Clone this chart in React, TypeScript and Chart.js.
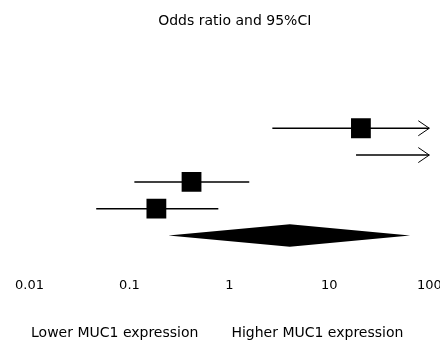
import React, { useEffect, useRef } from "react";
import { Chart, registerables } from "chart.js";

Chart.register(...registerables);

const TITLE = "Odds ratio and 95%CI";
// Study rows (top to bottom)
const ROW_POS = [5, 4, 3, 2];
const OR_EST = [20.7, 150, 0.418, 0.186];
const CI_LOW = [2.69, 18.5, 0.112, 0.0465];
const CI_HIGH = [1000, 1000, 1.58, 0.775];
// Pooled estimate (diamond)
const POOLED_POS = 1;
const POOLED_LOW = 0.245;
const POOLED_EST = 4.02;
const POOLED_HIGH = 64.3;
// Axis
const TICK_VALUES = [0.01, 0.1, 1, 10, 100];
const TICK_LABELS = ["0.01", "0.1", "1", "10", "100"];
const AXIS_MIN = 0.01;
const AXIS_CAP = 100;
const SIDE_LABELS = ["Lower MUC1 expression", "Higher MUC1 expression"];

const FONT = "DejaVu Sans";

const forestPlugin = {
  id: "forest",
  beforeDatasetsDraw(chart: any) {
    const { ctx } = chart;
    const x = chart.scales.x;
    const y = chart.scales.y;
    ctx.save();
    ctx.strokeStyle = "#000";
    ctx.fillStyle = "#000";
    ROW_POS.forEach((r, i) => {
      const py = y.getPixelForValue(r);
      const x0 = x.getPixelForValue(Math.max(CI_LOW[i], AXIS_MIN));
      const capped = CI_HIGH[i] > AXIS_CAP;
      const x1 = x.getPixelForValue(Math.min(CI_HIGH[i], AXIS_CAP));
      ctx.lineWidth = 1.5;
      ctx.beginPath();
      ctx.moveTo(x0, py);
      ctx.lineTo(x1, py);
      ctx.stroke();
      if (capped) {
        ctx.lineWidth = 1;
        ctx.beginPath();
        ctx.moveTo(x1 - 11, py - 7.5);
        ctx.lineTo(x1, py);
        ctx.lineTo(x1 - 11, py + 7.5);
        ctx.stroke();
      }
    });
    const dy = y.getPixelForValue(POOLED_POS);
    const dTop = y.getPixelForValue(POOLED_POS + 0.42);
    const dBot = y.getPixelForValue(POOLED_POS - 0.42);
    ctx.beginPath();
    ctx.moveTo(x.getPixelForValue(POOLED_LOW), dy);
    ctx.lineTo(x.getPixelForValue(POOLED_EST), dTop);
    ctx.lineTo(x.getPixelForValue(POOLED_HIGH), dy);
    ctx.lineTo(x.getPixelForValue(POOLED_EST), dBot);
    ctx.closePath();
    ctx.fill();
    ctx.restore();
  },
  afterDraw(chart: any) {
    const { ctx } = chart;
    const x = chart.scales.x;
    const one = x.getPixelForValue(1);
    ctx.save();
    ctx.fillStyle = "#000";
    ctx.font = `14px "${FONT}"`;
    ctx.textBaseline = "alphabetic";
    const by = chart.height - 3;
    ctx.textAlign = "right";
    ctx.fillText(SIDE_LABELS[0], one - 31, by);
    ctx.textAlign = "left";
    ctx.fillText(SIDE_LABELS[1], one + 2, by);
    ctx.restore();
  },
};

export default function App() {
  const ref = useRef<HTMLCanvasElement | null>(null);
  useEffect(() => {
    if (!ref.current) return;
    const chart = new Chart(ref.current, {
      type: "scatter",
      data: {
        datasets: [
          {
            data: ROW_POS.map((r, i) => ({ x: OR_EST[i], y: r })).filter((p) => p.x <= AXIS_CAP),
            pointStyle: "rect",
            pointRadius: 14,
            pointHoverRadius: 14,
            backgroundColor: "#000",
            borderColor: "#000",
            borderWidth: 0,
          },
        ],
      },
      options: {
        responsive: false,
        animation: false,
        layout: { autoPadding: false, padding: { left: 29.5, right: 0, top: 0, bottom: 44 } },
        plugins: {
          legend: { display: false },
          tooltip: { enabled: false },
          title: {
            display: true,
            text: TITLE,
            color: "#000",
            font: { family: FONT, size: 14, weight: "normal" },
            padding: { top: 13, bottom: 18 },
          },
        },
        scales: {
          x: {
            type: "logarithmic",
            min: AXIS_MIN,
            max: 128,
            grid: { display: false, drawTicks: false },
            border: { display: false },
            afterBuildTicks: (scale: any) => {
              scale.ticks = TICK_VALUES.map((v) => ({ value: v }));
            },
            afterFit: (scale: any) => {
              scale.paddingRight = 0;
            },
            ticks: {
              autoSkip: false,
              maxRotation: 0,
              color: "#000",
              padding: 3,
              font: { family: FONT, size: 13 },
              callback: (_v: any, idx: number) => TICK_LABELS[idx],
            },
          },
          y: {
            type: "linear",
            display: false,
            min: -0.45,
            max: 8,
          },
        },
      },
      plugins: [forestPlugin],
    });
    return () => chart.destroy();
  }, []);
  return (
    <div style={{ position: "fixed", left: 0, top: 0, width: 440, height: 340, background: "#fff" }}>
      <canvas ref={ref} width={440} height={340} />
    </div>
  );
}
